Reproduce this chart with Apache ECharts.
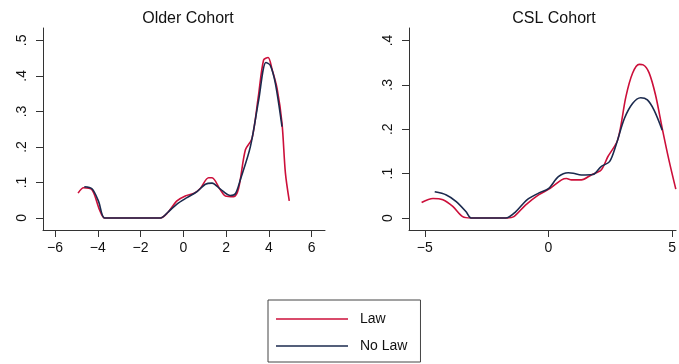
<!DOCTYPE html>
<html>
<head>
<meta charset="utf-8">
<script src="https://cdn.jsdelivr.net/npm/echarts@6/dist/echarts.min.js"></script>
<style>html,body{margin:0;padding:0;background:#fff}#c{width:679px;height:364px}</style>
</head>
<body>
<div id="c"></div>
<script>
// Titles and ticks
var panelTitles = ['Older Cohort', 'CSL Cohort'];
var olderXTicks = [-6, -4, -2, 0, 2, 4, 6];
var olderYTicks = [0, 0.1, 0.2, 0.3, 0.4, 0.5];
var cslXTicks = [-5, 0, 5];
var cslYTicks = [0, 0.1, 0.2, 0.3, 0.4];
var seriesNames = ['Law', 'No Law'];

// Older cohort, Law
var olderLawX = [-4.92, -4.66, -4.27, -3.91, -3.68, -3.0, -2.0, -1.07, -0.76, -0.30, 0.09, 0.48, 0.79, 1.18, 1.34, 1.73, 1.96, 2.35, 2.58, 2.90, 3.21, 3.50, 3.75, 3.96, 4.14, 4.38, 4.61, 4.77, 4.95];
var olderLawY = [0.070, 0.085, 0.079, 0.022, 0.0, 0.0, 0.0, 0.0, 0.013, 0.048, 0.062, 0.069, 0.083, 0.113, 0.113, 0.079, 0.062, 0.060, 0.083, 0.192, 0.224, 0.340, 0.445, 0.452, 0.420, 0.365, 0.267, 0.126, 0.048];
// Older cohort, No Law
var olderNoLawX = [-4.63, -4.27, -3.96, -3.68, -3.0, -2.0, -1.07, -0.69, -0.30, 0.17, 0.64, 1.03, 1.34, 1.73, 2.20, 2.43, 2.66, 3.13, 3.52, 3.86, 4.06, 4.30, 4.61];
var olderNoLawY = [0.088, 0.082, 0.046, 0.0, 0.0, 0.0, 0.0, 0.018, 0.039, 0.057, 0.074, 0.095, 0.098, 0.081, 0.063, 0.068, 0.107, 0.200, 0.332, 0.438, 0.430, 0.379, 0.257];

// CSL cohort, Law
var cslLawX = [-5.13, -4.67, -4.27, -3.87, -3.47, -3.13, -2.5, -1.67, -1.40, -0.93, -0.40, 0.07, 0.53, 0.73, 0.93, 1.33, 1.73, 2.13, 2.40, 2.80, 3.13, 3.40, 3.67, 3.83, 4.07, 4.33, 4.60, 4.87, 5.15];
var cslLawY = [0.035, 0.044, 0.041, 0.026, 0.003, 0.0, 0.0, 0.0, 0.003, 0.029, 0.052, 0.067, 0.086, 0.089, 0.086, 0.086, 0.097, 0.108, 0.138, 0.176, 0.273, 0.326, 0.346, 0.345, 0.327, 0.277, 0.202, 0.131, 0.065];
// CSL cohort, No Law
var cslNoLawX = [-4.60, -4.13, -3.73, -3.33, -3.13, -2.5, -1.73, -1.33, -0.87, -0.40, 0.0, 0.40, 0.80, 1.00, 1.33, 1.80, 2.13, 2.47, 2.73, 3.07, 3.40, 3.73, 4.00, 4.27, 4.60];
var cslNoLawY = [0.059, 0.052, 0.037, 0.014, 0.0, 0.0, 0.0, 0.014, 0.041, 0.056, 0.066, 0.093, 0.102, 0.101, 0.097, 0.098, 0.116, 0.127, 0.164, 0.224, 0.258, 0.271, 0.266, 0.243, 0.198];

function zip(xs, ys) { return xs.map(function (x, i) { return [x, ys[i]]; }); }

var RED = '#cc0f3a';
var NAVY = '#1b2a4e';
var FONT = 'Liberation Sans, Arial, Helvetica, sans-serif';

function xLab(v) { return v < 0 ? '\u2212' + Math.abs(v) : String(v); }
function yLab(v) { if (Math.abs(v) < 1e-9) return '0'; return '.' + Math.round(v * 10); }

function xAxis(idx, min, max, ticks) {
  return {
    type: 'value', gridIndex: idx, min: min, max: max, position: 'bottom',
    splitLine: { show: false },
    axisLine: { show: true, onZero: false, lineStyle: { color: '#333', width: 1 } },
    axisTick: { show: true, length: 7, lineStyle: { color: '#333' }, customValues: ticks },
    axisLabel: { show: true, customValues: ticks, formatter: xLab, color: '#111', fontSize: 14, fontFamily: FONT, margin: 11, hideOverlap: false, showMaxLabel: true, showMinLabel: true }
  };
}
function yAxis(idx, min, max, ticks) {
  return {
    type: 'value', gridIndex: idx, min: min, max: max, position: 'left',
    splitLine: { show: false },
    axisLine: { show: true, onZero: false, lineStyle: { color: '#333', width: 1 } },
    axisTick: { show: true, length: 7, lineStyle: { color: '#333' }, customValues: ticks },
    axisLabel: { show: true, customValues: ticks, formatter: yLab, rotate: 90, color: '#111', fontSize: 14, fontFamily: FONT, margin: 14, hideOverlap: false }
  };
}
function line(name, color, xi, data) {
  return {
    type: 'line', name: name, xAxisIndex: xi, yAxisIndex: xi, data: data,
    showSymbol: false, symbol: 'none', smooth: 0.3,
    lineStyle: { color: color, width: 1.6 }, itemStyle: { color: color }, z: name === 'Law' ? 2 : 3
  };
}

var chart = echarts.init(document.getElementById('c'), null, { renderer: 'canvas' });
chart.setOption({
  animation: false,
  backgroundColor: '#fff',
  title: [
    { text: panelTitles[0], left: 183, top: 6, textAlign: 'center', textStyle: { fontSize: 16, fontWeight: 'normal', color: '#111', fontFamily: FONT } },
    { text: panelTitles[1], left: 549, top: 6, textAlign: 'center', textStyle: { fontSize: 16, fontWeight: 'normal', color: '#111', fontFamily: FONT } }
  ],
  grid: [
    { left: 43, top: 28, width: 282, height: 202 },
    { left: 409, top: 28, width: 270, height: 202 }
  ],
  xAxis: [xAxis(0, -6.56, 6.62, olderXTicks), xAxis(1, -5.64, 5.16, cslXTicks)],
  yAxis: [yAxis(0, -0.034, 0.535, olderYTicks), yAxis(1, -0.027, 0.428, cslYTicks)],
  legend: {
    show: true, orient: 'vertical', left: 268, top: 300,
    data: [{ name: seriesNames[0], icon: 'rect' }, { name: seriesNames[1], icon: 'rect' }],
    itemWidth: 72, itemHeight: 1.6, itemGap: 13,
    padding: [12, 13, 9, 8],
    borderColor: '#444', borderWidth: 1, backgroundColor: '#fff',
    textStyle: { fontSize: 14, color: '#111', fontFamily: FONT, lineHeight: 14, padding: [0, 0, 0, 7] },
    selectedMode: false
  },
  series: [
    line(seriesNames[0], RED, 0, zip(olderLawX, olderLawY)),
    line(seriesNames[1], NAVY, 0, zip(olderNoLawX, olderNoLawY)),
    line(seriesNames[0], RED, 1, zip(cslLawX, cslLawY)),
    line(seriesNames[1], NAVY, 1, zip(cslNoLawX, cslNoLawY))
  ]
});
</script>
</body>
</html>
